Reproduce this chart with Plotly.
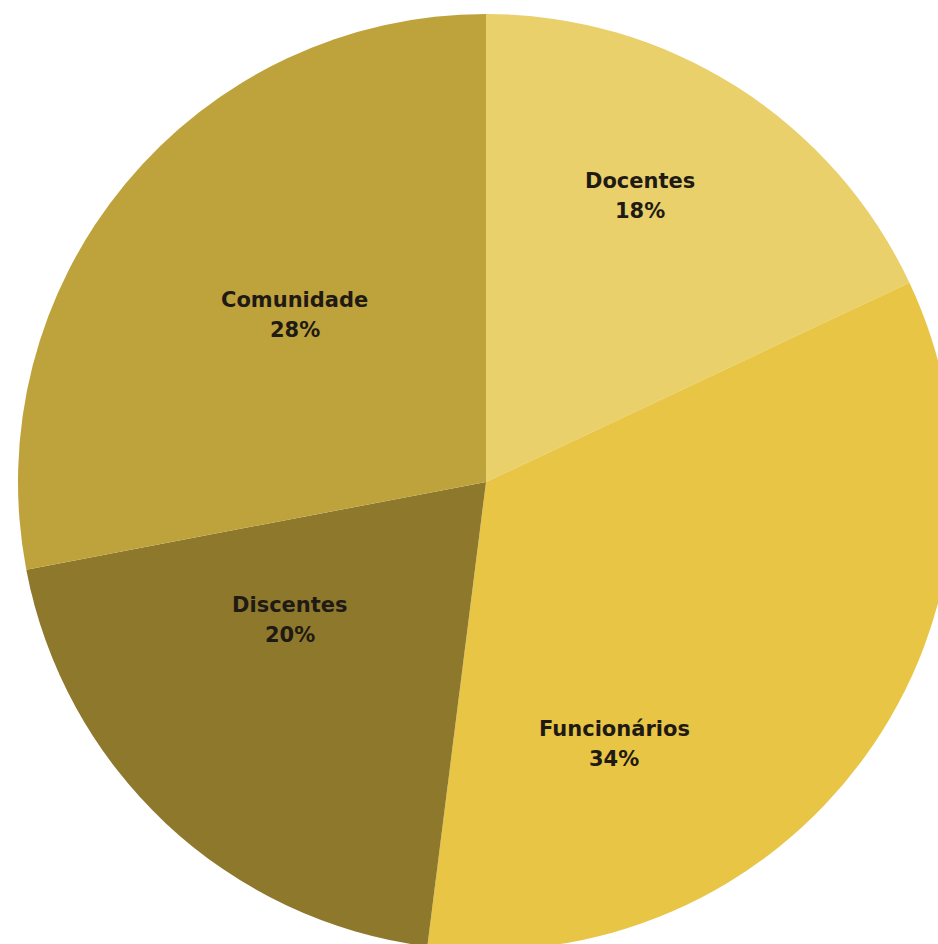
import plotly.graph_objects as go

labels = ["Docentes", "Funcionários", "Discentes", "Comunidade"]
values = [18, 34, 20, 28]
colors = ["#E9D06B", "#E8C545", "#8D782C", "#BEA23B"]

# label anchor positions (paper fraction) for each slice's text block
label_x = [0.6645, 0.6368, 0.2906, 0.2959]
label_y = [0.8056, 0.2201, 0.3526, 0.6784]

fig = go.Figure(go.Pie(
    labels=labels,
    values=values,
    sort=False,
    direction="clockwise",
    rotation=0,
    marker=dict(colors=colors, line=dict(width=0)),
    textinfo="none",
    hoverinfo="label+percent",
    showlegend=False,
))

total = sum(values)
font = dict(family="DejaVu Sans, sans-serif", size=21, color="#1f1a14")
for lab, val, x, y in zip(labels, values, label_x, label_y):
    pct = round(100 * val / total)
    fig.add_annotation(x=x, y=y, xref="paper", yref="paper", text=f"<b>{lab}</b>",
                       showarrow=False, font=font, yshift=15, xanchor="center", yanchor="middle")
    fig.add_annotation(x=x, y=y, xref="paper", yref="paper", text=f"<b>{pct}%</b>",
                       showarrow=False, font=font, yshift=-15, xanchor="center", yanchor="middle")

fig.update_layout(
    width=954,
    height=950,
    margin=dict(l=18, r=0, t=14, b=0),
    paper_bgcolor="white",
    plot_bgcolor="white",
)

fig.write_html(
    "out.html",
    config={"displayModeBar": False},
    post_script="document.body.style.margin='0';document.body.style.overflow='hidden';",
)
